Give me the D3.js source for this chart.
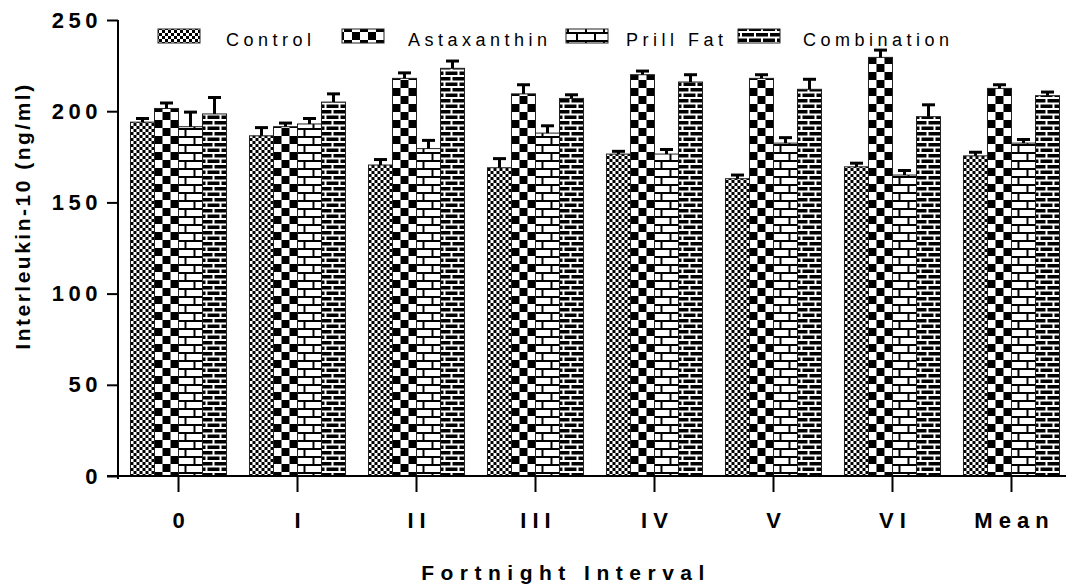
<!DOCTYPE html>
<html>
<head>
<meta charset="utf-8">
<script src="https://cdn.jsdelivr.net/npm/d3@7"></script>
<style>
  html, body { margin: 0; padding: 0; background: #fff; }
  svg { display: block; }
  text { font-family: Arial, "Liberation Sans", sans-serif; fill: #000; }
</style>
</head>
<body>
<svg id="chart" width="1066" height="588"></svg>
<script>
// Fortnight intervals
const categories = ["0", "I", "II", "III", "IV", "V", "VI", "Mean"];
const seriesNames = ["Control", "Astaxanthin", "Prill Fat", "Combination"];

// Interleukin-10 (ng/ml), group means
const control     = [194, 186.5, 170.5, 169, 176.5, 163, 169.5, 175.5];
const astaxanthin = [201.5, 191.5, 218, 209.5, 220, 218, 229.5, 212.5];
const prillFat    = [191.5, 193, 179.5, 188, 176.5, 182.5, 165, 182.5];
const combination = [198.5, 205, 223.5, 207, 216, 212, 197, 208.5];

// Standard errors
const controlErr     = [2, 4.5, 3, 5, 1.5, 2, 2, 2];
const astaxanthinErr = [3, 2, 3, 5, 2, 2, 4, 2];
const prillFatErr    = [8, 3, 4.5, 4, 2.5, 3, 2.5, 2];
const combinationErr = [9, 4.5, 4, 2, 4, 5.5, 6.5, 2];

const yTicks = [0, 50, 100, 150, 200, 250];

const seriesValues = [control, astaxanthin, prillFat, combination];
const seriesErrors = [controlErr, astaxanthinErr, prillFatErr, combinationErr];
const patternIds = ["pat-fine", "pat-check", "pat-brick", "pat-darkbrick"];

const svg = d3.select("#chart");
const defs = svg.append("defs");

// Fine checkerboard
const p0 = defs.append("pattern").attr("id", "pat-fine")
  .attr("patternUnits", "userSpaceOnUse").attr("width", 6).attr("height", 6);
p0.append("rect").attr("width", 6).attr("height", 6).attr("fill", "#fff");
p0.append("rect").attr("x", 0).attr("y", 0).attr("width", 3).attr("height", 3).attr("fill", "#000");
p0.append("rect").attr("x", 3).attr("y", 3).attr("width", 3).attr("height", 3).attr("fill", "#000");

// Large checkerboard
const p1 = defs.append("pattern").attr("id", "pat-check")
  .attr("patternUnits", "userSpaceOnUse").attr("width", 16).attr("height", 16);
p1.append("rect").attr("width", 16).attr("height", 16).attr("fill", "#fff");
p1.append("rect").attr("x", 0).attr("y", 0).attr("width", 8).attr("height", 8).attr("fill", "#000");
p1.append("rect").attr("x", 8).attr("y", 8).attr("width", 8).attr("height", 8).attr("fill", "#000");

// White bricks with dark mortar
const p2 = defs.append("pattern").attr("id", "pat-brick")
  .attr("patternUnits", "userSpaceOnUse").attr("width", 18).attr("height", 16);
p2.append("rect").attr("width", 18).attr("height", 16).attr("fill", "#fff");
p2.append("rect").attr("x", 0).attr("y", 0).attr("width", 18).attr("height", 2).attr("fill", "#000");
p2.append("rect").attr("x", 0).attr("y", 8).attr("width", 18).attr("height", 2).attr("fill", "#000");
p2.append("rect").attr("x", 0).attr("y", 0).attr("width", 2).attr("height", 8).attr("fill", "#000");
p2.append("rect").attr("x", 9).attr("y", 8).attr("width", 2).attr("height", 8).attr("fill", "#000");

// Dark bricks with white mortar
const p3 = defs.append("pattern").attr("id", "pat-darkbrick")
  .attr("patternUnits", "userSpaceOnUse").attr("width", 14).attr("height", 11);
p3.append("rect").attr("width", 14).attr("height", 11).attr("fill", "#fff");
p3.append("rect").attr("x", 0).attr("y", 0).attr("width", 12).attr("height", 3.5).attr("fill", "#000");
p3.append("rect").attr("x", 0).attr("y", 5.5).attr("width", 5).attr("height", 3.5).attr("fill", "#000");
p3.append("rect").attr("x", 7).attr("y", 5.5).attr("width", 7).attr("height", 3.5).attr("fill", "#000");

// Scales
const x0 = d3.scaleBand().domain(categories)
  .range([118, 1072]).paddingInner(0.193).paddingOuter(0.105);
const x1 = d3.scaleBand().domain(seriesNames).range([0, x0.bandwidth()]).padding(0);
const y = d3.scaleLinear().domain([0, 250]).range([476, 20]);

const rows = categories.map((c, i) => ({
  cat: c,
  bars: seriesNames.map((s, k) => ({
    series: s, k, value: seriesValues[k][i], err: seriesErrors[k][i]
  }))
}));

const groups = svg.append("g").selectAll("g").data(rows).join("g")
  .attr("transform", d => `translate(${x0(d.cat)},0)`);

groups.selectAll("rect.bar").data(d => d.bars).join("rect")
  .attr("class", "bar")
  .attr("x", d => x1(d.series))
  .attr("y", d => y(d.value))
  .attr("width", x1.bandwidth())
  .attr("height", d => y(0) - y(d.value))
  .attr("fill", d => `url(#${patternIds[d.k]})`)
  .attr("stroke", "#222").attr("stroke-width", 1);

// Upper error bars
const eb = groups.selectAll("g.err").data(d => d.bars).join("g").attr("class", "err");
eb.append("line")
  .attr("x1", d => x1(d.series) + x1.bandwidth() / 2)
  .attr("x2", d => x1(d.series) + x1.bandwidth() / 2)
  .attr("y1", d => y(d.value))
  .attr("y2", d => y(d.value + d.err))
  .attr("stroke", "#000").attr("stroke-width", 3);
eb.append("line")
  .attr("x1", d => x1(d.series) + x1.bandwidth() / 2 - 6.5)
  .attr("x2", d => x1(d.series) + x1.bandwidth() / 2 + 6.5)
  .attr("y1", d => y(d.value + d.err))
  .attr("y2", d => y(d.value + d.err))
  .attr("stroke", "#000").attr("stroke-width", 3);

// Y axis
const yAxis = svg.append("g").attr("transform", "translate(118,0)")
  .call(d3.axisLeft(y).tickValues(yTicks).tickSize(11).tickPadding(9).tickSizeOuter(0));
yAxis.select(".domain").attr("stroke-width", 2).attr("d", "M0,20V479");
yAxis.selectAll(".tick line").attr("stroke-width", 2);
yAxis.selectAll(".tick text")
  .attr("font-size", 22).attr("font-weight", "bold")
  .style("letter-spacing", "4.5px")
  .attr("font-family", "Arial, 'Liberation Sans', sans-serif")
  .attr("dx", 4);

// X axis
const xAxis = svg.append("g").attr("transform", "translate(0,476)")
  .call(d3.axisBottom(x0).tickSize(16).tickPadding(20).tickSizeOuter(0));
xAxis.select(".domain").attr("stroke-width", 2).attr("d", "M107,0H1066");
xAxis.selectAll(".tick line").attr("stroke-width", 2);
xAxis.selectAll(".tick text")
  .attr("font-size", 22).attr("font-weight", "bold")
  .style("letter-spacing", "6px")
  .attr("dx", 3)
  .attr("font-family", "Arial, 'Liberation Sans', sans-serif");

// Axis titles
svg.append("text")
  .attr("transform", "translate(30,216) rotate(-90)")
  .attr("text-anchor", "middle")
  .attr("font-size", 21).attr("font-weight", "bold")
  .style("letter-spacing", "2.5px")
  .text("Interleukin-10 (ng/ml)");

svg.append("text")
  .attr("x", 566).attr("y", 580)
  .attr("text-anchor", "middle")
  .attr("font-size", 21).attr("font-weight", "bold")
  .style("letter-spacing", "6.5px")
  .text("Fortnight Interval");

// Legend
const legendItems = [
  { name: "Control", sx: 158, tx: 226 },
  { name: "Astaxanthin", sx: 342, tx: 408 },
  { name: "Prill Fat", sx: 566, tx: 626 },
  { name: "Combination", sx: 738, tx: 803 }
];
const legend = svg.append("g").selectAll("g").data(legendItems).join("g");
legend.append("rect")
  .attr("x", d => d.sx).attr("y", 29)
  .attr("width", 42).attr("height", 14)
  .attr("fill", (d, i) => `url(#${patternIds[i]})`)
  .attr("stroke", "#222").attr("stroke-width", 1);
legend.append("text")
  .attr("x", d => d.tx).attr("y", 46)
  .attr("font-size", 18)
  .style("letter-spacing", "4.5px")
  .text(d => d.name);
</script>
</body>
</html>
